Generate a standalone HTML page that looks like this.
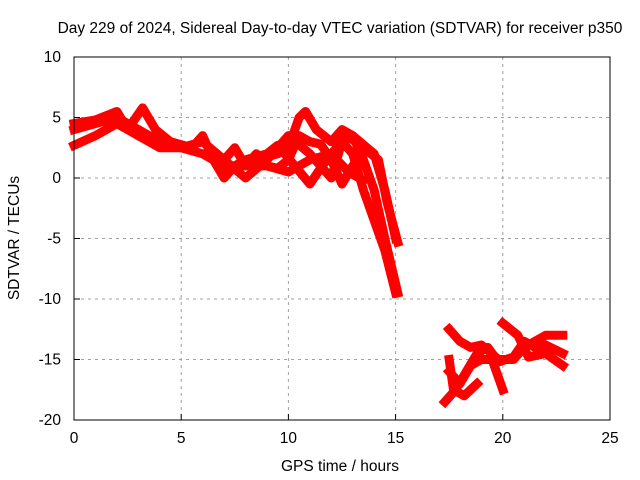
<!DOCTYPE html>
<html><head><meta charset="utf-8"><style>
body{margin:0;background:#fff}
svg{display:block;font-family:"Liberation Sans",sans-serif;font-size:15.5px}
</style></head><body>
<svg id="chart" width="640" height="480" viewBox="0 0 640 480">
<text x="340" y="33" text-anchor="middle">Day 229 of 2024, Sidereal Day-to-day VTEC variation (SDTVAR) for receiver p350</text>
<g id="grid"></g>
<g id="series"></g>
<rect x="74" y="57" width="536" height="363" fill="none" stroke="#000" stroke-width="1"/>
<g id="ticks"></g>
<text x="340" y="471" text-anchor="middle">GPS time / hours</text>
<text transform="translate(19,238) rotate(-90)" text-anchor="middle">SDTVAR / TECUs</text>
</svg>
<script>
const xTicks=[0,5,10,15,20,25];
const yTicks=[-20,-15,-10,-5,0,5,10];
const trackA=[[0,4.5],[1,4.8],[2,5.5],[2.5,4],[3.2,5.8],[3.8,4],[4.5,3],[5.5,2.5],[6,3.5],[6.5,1.5],[7,0],[7.5,1],[8.5,1.5],[9.5,2],[10,2.5],[10.5,5],[10.8,5.5],[11.3,4],[12,3],[12.5,4],[13,3.5],[13.5,1.5],[14,-1],[14.5,-5],[15.1,-9.5]];
const trackB=[[0,2.7],[1,3.5],[2,4.5],[3,3.5],[4,2.5],[5,2.5],[6,3],[7,1.5],[8,0],[9,1.5],[10,3.5],[11,2],[12,0],[12.5,3],[13,2],[13.5,-1],[14,-3.5],[14.5,-6],[15,-9.5]];
const trackC=[[0,4],[1,4.5],[2,5],[3,4],[4,3],[5,2.5],[6,2],[7,1],[8,1],[9,1],[10,0.5],[11,1.5],[12,2],[12.5,3],[13,3.5],[14,2],[14.5,-1],[15,-5]];
const trackD=[[7,0.5],[8,1.5],[9,2],[9.5,2.7],[10.3,1],[11,-0.5],[11.5,0.8],[12,2],[12.8,0.5],[13.5,-0.2]];
const trackE=[[12.5,3.8],[13.5,2.5],[14.2,1.5],[14.6,-2],[15.1,-5.3]];
const trackK=[[6.5,2],[7,1.5],[7.5,2.5],[8,1],[8.5,2],[9,1],[9.5,0.8],[10,1.5],[10.5,3.5],[11,3],[11.5,2.8],[12,1.5],[12.5,-0.5],[13,1],[13.5,2.2]];
const trackF=[[17.5,-12.5],[18,-13.5],[18.5,-14],[19,-13.8],[19.8,-15],[20.5,-15],[21,-14],[21.5,-13.5],[22,-13],[22.8,-13]];
const trackG=[[17.3,-18.5],[17.8,-17.5],[18.3,-16],[18.8,-14.5],[19.3,-14],[19.8,-15.2],[20.5,-14.8],[21,-13.5],[21.5,-14],[22,-13.8],[22.8,-14.5]];
const trackH=[[17.5,-16],[18,-17],[18.5,-15.5],[19,-15],[19.5,-15],[20,-17.5]];
const trackI=[[20,-12],[20.7,-13],[21.2,-14.8],[22,-14.5],[22.8,-15.5]];
const trackJ=[[17.5,-15],[17.7,-17.5],[18.2,-18],[18.8,-17]];
const tracks=[trackA,trackB,trackC,trackD,trackE,trackK,trackF,trackG,trackH,trackI,trackJ];
const X=t=>74+t*536/25;
const Y=v=>57+(10-v)*363/30;
const NS='http://www.w3.org/2000/svg';
const grid=document.getElementById('grid'),ticks=document.getElementById('ticks'),ser=document.getElementById('series');
function mk(tag,attrs,parent){const e=document.createElementNS(NS,tag);for(const k in attrs)e.setAttribute(k,attrs[k]);parent.appendChild(e);return e;}
xTicks.forEach(t=>{const x=X(t);
 if(t>0&&t<25){const g=mk('line',{x1:x,x2:x,y1:57,y2:420,stroke:'#a0a0a0','stroke-dasharray':'3,4'},grid);
 
 }
 const tk=mk('line',{x1:x,x2:x,y1:420,y2:414,stroke:'#000'},ticks);
 
 
 const tx=mk('text',{x:x,y:443,'text-anchor':'middle'},ticks);tx.textContent=t;
 
 
});
yTicks.forEach(v=>{const y=Y(v);
 if(v>-20&&v<10){const g=mk('line',{x1:74,x2:610,y1:y,y2:y,stroke:'#a0a0a0','stroke-dasharray':'3,4'},grid);
 
 }
 const tk=mk('line',{x1:74,x2:80,y1:y,y2:y,stroke:'#000'},ticks);
 
 
 const tx=mk('text',{x:61,y:y+5,'text-anchor':'end'},ticks);tx.textContent=v;
 
 
});
tracks.forEach(tr=>{
 const p=mk('polyline',{points:tr.map(d=>X(d[0])+','+Y(d[1])).join(' '),fill:'none',stroke:'#ff0000','stroke-width':9,'stroke-linejoin':'round','stroke-linecap':'square'},ser);
 
 
});
</script>
</body></html>
